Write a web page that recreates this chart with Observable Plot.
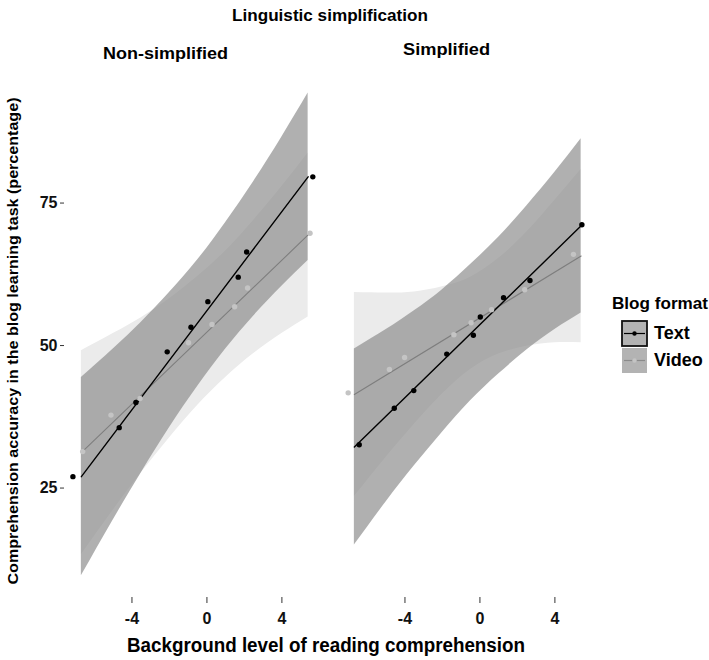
<!DOCTYPE html>
<html>
<head>
<meta charset="utf-8">
<script src="https://cdn.jsdelivr.net/npm/d3@7"></script>
<script src="https://cdn.jsdelivr.net/npm/@observablehq/plot@0.6"></script>
<style>
  html, body { margin: 0; padding: 0; background: #fff; }
  #chart { width: 709px; height: 660px; }
</style>
</head>
<body>
<div id="chart"></div>
<script>
// ---- data ----
const panels = ["Non-simplified", "Simplified"];
const formats = ["Text", "Video"];
const xTicks = [-4, 0, 4];
const yTicks = [25, 50, 75];

// binned observations
const nonTextX  = [-7.15, -4.68, -3.79, -2.12, -0.85, 0.05, 1.67, 2.12, 5.65];
const nonTextY  = [27.0, 35.6, 40.0, 48.9, 53.2, 57.7, 62.0, 66.4, 79.6];
const nonVideoX = [-6.63, -5.12, -3.57, -0.98, 0.27, 1.48, 2.17, 5.5];
const nonVideoY = [31.4, 37.8, 40.7, 50.5, 53.7, 56.8, 60.1, 69.7];
const simTextX  = [-6.44, -4.57, -3.53, -1.77, -0.35, 0.02, 1.26, 2.67, 5.44];
const simTextY  = [32.6, 39.0, 42.1, 48.5, 51.8, 55.0, 58.4, 61.4, 71.2];
const simVideoX = [-7.03, -4.83, -4.02, -1.39, -0.47, 0.62, 2.39, 4.99];
const simVideoY = [41.7, 45.8, 47.9, 51.9, 54.0, 56.3, 59.8, 66.0];

// fitted lines (end points)
const lineX = [-6.7, 5.4];
const nonTextLine  = [27.0, 79.6];
const nonVideoLine = [31.2, 69.4];
const simTextLine  = [32.2, 71.0];
const simVideoLine = [41.4, 65.7];

// confidence ribbons
const bandX = [-6.7, -5, -3.5, -2, -0.5, 1, 2.5, 4, 5.4];
const nonTextLo  = [9.6, 19.4, 27.7, 35.6, 42.8, 49.4, 55.2, 60.4, 64.9];
const nonTextHi  = [44.4, 49.4, 54.1, 59.3, 65.0, 71.6, 78.8, 86.6, 94.3];
const nonVideoLo = [13.3, 21.1, 27.7, 33.8, 39.5, 44.4, 48.6, 52.1, 55.0];
const nonVideoHi = [49.1, 52.1, 54.9, 58.2, 62.1, 66.6, 72.0, 77.9, 83.8];
const simTextLo  = [15.0, 22.6, 28.9, 34.8, 40.3, 45.0, 49.2, 52.8, 55.7];
const simTextHi  = [49.4, 52.8, 56.1, 59.8, 64.2, 69.0, 74.5, 80.4, 86.3];
const simVideoLo = [23.5, 30.4, 36.2, 41.5, 45.8, 48.5, 49.9, 50.5, 50.5];
const simVideoHi = [59.3, 59.2, 59.4, 60.3, 62.0, 65.3, 69.9, 75.5, 80.9];

// ---- tables built from the arrays ----
const pts = [];
function addPts(panel, format, xs, ys) { xs.forEach((x, i) => pts.push({panel, format, x, y: ys[i]})); }
addPts(panels[0], "Text", nonTextX, nonTextY);
addPts(panels[0], "Video", nonVideoX, nonVideoY);
addPts(panels[1], "Text", simTextX, simTextY);
addPts(panels[1], "Video", simVideoX, simVideoY);

const lines = [];
function addLine(panel, format, ys) { lineX.forEach((x, i) => lines.push({panel, format, x, y: ys[i]})); }
addLine(panels[0], "Text", nonTextLine);
addLine(panels[0], "Video", nonVideoLine);
addLine(panels[1], "Text", simTextLine);
addLine(panels[1], "Video", simVideoLine);

const bands = [];
function addBand(panel, format, lo, hi) { bandX.forEach((x, i) => bands.push({panel, format, x, lo: lo[i], hi: hi[i]})); }
addBand(panels[0], "Text", nonTextLo, nonTextHi);
addBand(panels[0], "Video", nonVideoLo, nonVideoHi);
addBand(panels[1], "Text", simTextLo, simTextHi);
addBand(panels[1], "Video", simVideoLo, simVideoHi);

const FONT = "'Liberation Sans', Arial, Helvetica, sans-serif";
const fmt = d => d < 0 ? "-" + Math.abs(d) : String(d);

const svg = Plot.plot({
  width: 709,
  height: 660,
  marginTop: 80,
  marginBottom: 63,
  marginLeft: 64,
  marginRight: 119,
  style: {fontFamily: FONT, fontWeight: "bold", fontSize: "16px", color: "#111", background: "white"},
  x: {domain: [-7.6, 5.9]},
  y: {domain: [5.8, 96.5]},
  fx: {domain: panels, paddingInner: 0.0733, paddingOuter: 0, axis: null, label: null},
  marks: [
    Plot.areaY(bands, {filter: d => d.format === "Video", fx: "panel", x: "x", y1: "lo", y2: "hi",
      fill: "#ebebeb", curve: "natural"}),
    Plot.areaY(bands, {filter: d => d.format === "Text", fx: "panel", x: "x", y1: "lo", y2: "hi",
      fill: "#8f8f8f", fillOpacity: 0.7, curve: "natural"}),
    Plot.line(lines, {filter: d => d.format === "Video", fx: "panel", x: "x", y: "y", stroke: "#7e7e7e", strokeWidth: 1.1}),
    Plot.line(lines, {filter: d => d.format === "Text", fx: "panel", x: "x", y: "y", stroke: "#000", strokeWidth: 1.4}),
    Plot.dot(pts, {filter: d => d.format === "Video", fx: "panel", x: "x", y: "y", r: 2.7, fill: "#c4c4c4", stroke: "none"}),
    Plot.dot(pts, {filter: d => d.format === "Text", fx: "panel", x: "x", y: "y", r: 2.7, fill: "#000", stroke: "none"}),
    Plot.axisY({ticks: yTicks, tickSize: 4, tickPadding: 3, label: null, fontSize: 16, fontWeight: "bold", stroke: "#333"}),
    Plot.axisX({ticks: xTicks, tickSize: 6, tickPadding: 9, label: null, tickFormat: fmt, fontSize: 16, fontWeight: "bold", stroke: "#333"})
  ]
});

document.getElementById("chart").appendChild(svg);

// ---- titles, labels and legend ----
const s = d3.select(svg);
function addText(txt, x, y, size, len, opts = {}) {
  const t = s.append("text")
    .attr("x", x).attr("y", y)
    .attr("text-anchor", opts.anchor || "middle")
    .attr("font-family", FONT)
    .attr("font-weight", "bold")
    .attr("font-size", size)
    .attr("fill", "#000")
    .text(txt);
  if (len) t.attr("textLength", len).attr("lengthAdjust", "spacingAndGlyphs");
  if (opts.transform) t.attr("transform", opts.transform);
  return t;
}
addText("Linguistic simplification", 330, 21, 17, 196);
addText(panels[0], 165.5, 59, 17, 125);
addText(panels[1], 446.5, 55, 17, 87);
addText("Background level of reading comprehension", 326, 652, 20, 398);
s.append("text")
  .attr("transform", "translate(18,341) rotate(-90)")
  .attr("text-anchor", "middle")
  .attr("font-family", FONT).attr("font-weight", "bold").attr("font-size", 14)
  .attr("textLength", 487).attr("lengthAdjust", "spacingAndGlyphs")
  .attr("fill", "#000")
  .text("Comprehension accuracy in the blog learning task (percentage)");

// legend
addText("Blog format", 612, 309, 17, 96, {anchor: "start"});
const keys = [
  {label: formats[0], y: 321, line: "#000", dot: "#000", border: true},
  {label: formats[1], y: 348, line: "#8a8a8a", dot: "#c4c4c4", border: false}
];
keys.forEach(k => {
  s.append("rect").attr("x", 622).attr("y", k.y).attr("width", 25).attr("height", 25)
    .attr("fill", "#b3b3b3")
    .attr("stroke", k.border ? "#111" : "none").attr("stroke-width", k.border ? 1.8 : 0);
  s.append("line").attr("x1", 624).attr("x2", 645).attr("y1", k.y + 12.5).attr("y2", k.y + 12.5)
    .attr("stroke", k.line).attr("stroke-width", 1.2);
  s.append("circle").attr("cx", 634.5).attr("cy", k.y + 12.5).attr("r", 2.2).attr("fill", k.dot);
  addText(k.label, 654, k.y + 18, 18, null, {anchor: "start"});
});
</script>
</body>
</html>
